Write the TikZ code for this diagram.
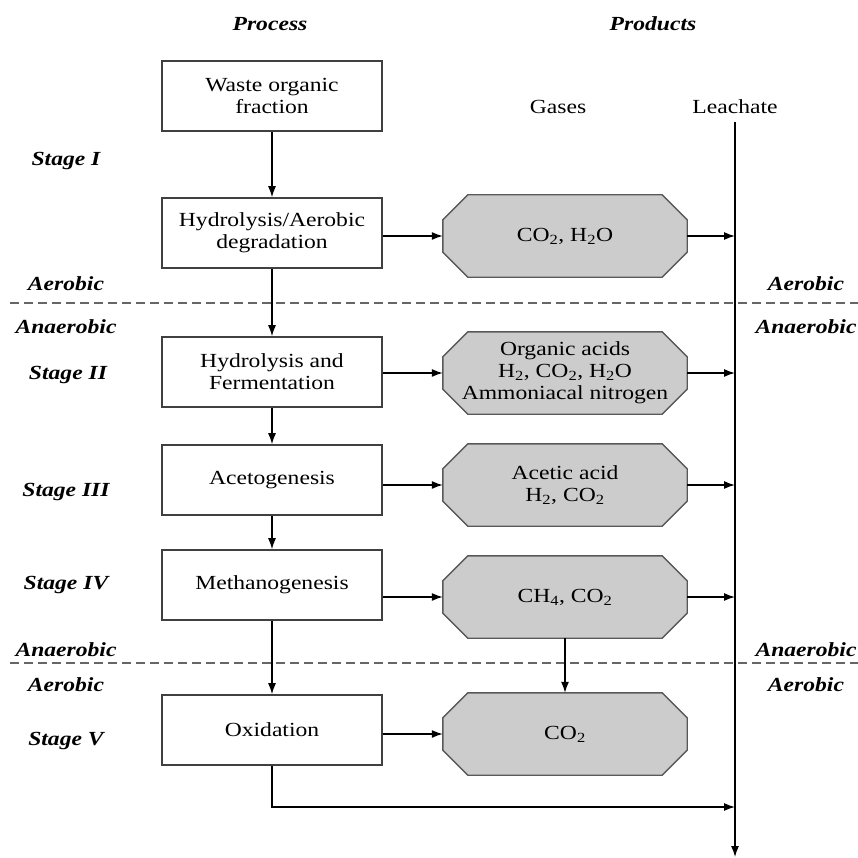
\documentclass[tikz,border=0pt]{standalone}
\usepackage{fontspec}
\setmainfont{Liberation Serif}[FakeStretch=1.18]
\usetikzlibrary{arrows.meta,backgrounds}
\begin{document}
\begin{tikzpicture}[x=1pt,y=1pt,
  every node/.style={font=\fontsize{20}{22}\selectfont},
  lbl/.style={font=\fontsize{20}{22}\selectfont\bfseries\itshape},
  procbox/.style={draw=black!75,line width=1.6pt,minimum width=220,minimum height=70,align=center,inner sep=0},
  gasbox/.style={minimum width=244,minimum height=82,align=center,inner sep=0},
  octa/.style={draw=black!65,fill=black!20,line width=1.4pt},
  arr/.style={-{Latex[length=11pt,width=8pt]},line width=1.3pt},
  zoneline/.style={dash pattern=on 9pt off 5pt, draw=black!60, line width=1.6pt}]
\path[use as bounding box] (0,0) rectangle (858,-858);

% headings
\node[lbl] (hproc) at (270,-24) {Process};
\node[lbl] (hprod) at (653,-24) {Products};
\node (hgas) at (558,-107) {Gases};
\node (hleach) at (735,-107) {Leachate};

% process boxes
\node[procbox] (b1) at (272,-96) {Waste organic\\fraction};
\node[procbox] (b2) at (272,-233) {Hydrolysis/Aerobic\\degradation};
\node[procbox] (b3) at (272,-372) {Hydrolysis and\\Fermentation};
\node[procbox] (b4) at (272,-480) {Acetogenesis};
\node[procbox] (b5) at (272,-585) {Methanogenesis};
\node[procbox] (b6) at (272,-730) {Oxidation};

% gas boxes
\node[gasbox] (o1) at (565,-236) {CO\textsubscript{2}, H\textsubscript{2}O};
\node[gasbox] (o2) at (565,-373) {Organic acids\\H\textsubscript{2}, CO\textsubscript{2}, H\textsubscript{2}O\\Ammoniacal nitrogen};
\node[gasbox] (o3) at (565,-485) {Acetic acid\\H\textsubscript{2}, CO\textsubscript{2}};
\node[gasbox] (o4) at (565,-597) {CH\textsubscript{4}, CO\textsubscript{2}};
\node[gasbox] (o5) at (565,-734) {CO\textsubscript{2}};

\begin{scope}[on background layer]
\foreach \n in {o1,o2,o3,o4,o5}{
  \draw[octa] ([xshift=25]\n.north west) -- ([xshift=-25]\n.north east) -- ([yshift=-25]\n.north east)
    -- ([yshift=25]\n.south east) -- ([xshift=-25]\n.south east) -- ([xshift=25]\n.south west)
    -- ([yshift=25]\n.south west) -- ([yshift=-25]\n.north west) -- cycle;
}
\end{scope}

% stage labels
\node[lbl] (s1) at (66,-161) {Stage I};
\node[lbl] (aer1) at (66,-284) {Aerobic};
\node[lbl] (ana1) at (66,-327) {Anaerobic};
\node[lbl] (s2) at (68,-375) {Stage II};
\node[lbl] (s3) at (66,-492) {Stage III};
\node[lbl] (s4) at (66,-585) {Stage IV};
\node[lbl] (ana2) at (66,-650) {Anaerobic};
\node[lbl] (aer2) at (66,-685) {Aerobic};
\node[lbl] (s5) at (66,-741) {Stage V};
\node[lbl] (raer1) at (806,-284) {Aerobic};
\node[lbl] (rana1) at (806,-327) {Anaerobic};
\node[lbl] (rana2) at (806,-650) {Anaerobic};
\node[lbl] (raer2) at (806,-685) {Aerobic};

% zone lines
\draw[zoneline] (10,-303) -- (858,-303);
\draw[zoneline] (10,-663) -- (858,-663);

% leachate line
\coordinate (ltop) at (735,-122);
\coordinate (lend) at (735,-857);
\coordinate (lbot) at (735,-807);
\draw[arr] (ltop) -- (lend);

% process arrows
\draw[arr] (b1) -- (b2);
\draw[arr] (b2) -- (b3);
\draw[arr] (b3) -- (b4);
\draw[arr] (b4) -- (b5);
\draw[arr] (b5) -- (b6);

% to gases
\draw[arr] (b2.east |- o1.west) -- (o1.west);
\draw[arr] (b3.east |- o2.west) -- (o2.west);
\draw[arr] (b4.east |- o3.west) -- (o3.west);
\draw[arr] (b5.east |- o4.west) -- (o4.west);
\draw[arr] (b6.east |- o5.west) -- (o5.west);
\draw[arr] (o4) -- (o5);

% to leachate
\draw[arr] (o1.east) -- (o1.east -| ltop);
\draw[arr] (o2.east) -- (o2.east -| ltop);
\draw[arr] (o3.east) -- (o3.east -| ltop);
\draw[arr] (o4.east) -- (o4.east -| ltop);
\draw[arr] (b6.south) |- (lbot);
\end{tikzpicture}
\end{document}
